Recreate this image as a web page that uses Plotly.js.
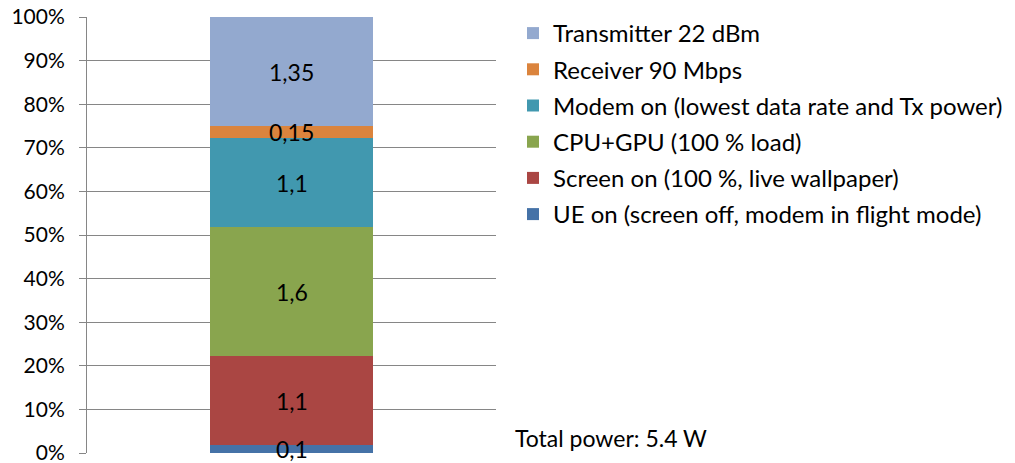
<!DOCTYPE html>
<html>
<head>
<meta charset="utf-8">
<script src="https://cdn.plot.ly/plotly-3.0.1.min.js"></script>
<style>html,body{margin:0;padding:0;background:#fff;}#chart{width:1015px;height:463px;}</style>
</head>
<body>
<div id="chart"></div>
<script>
const categories = [
  'UE on (screen off, modem in flight mode)',
  'Screen on (100 %, live wallpaper)',
  'CPU+GPU (100 % load)',
  'Modem on (lowest data rate and Tx power)',
  'Receiver 90 Mbps',
  'Transmitter 22 dBm'
];
const values = [0.1, 1.1, 1.6, 1.1, 0.15, 1.35];
const valueLabels = ['0,1', '1,1', '1,6', '1,1', '0,15', '1,35'];
const colors = ['#4572A7', '#AA4643', '#89A54E', '#4198AF', '#DB843D', '#93A9CF'];
const tickValues = [0, 10, 20, 30, 40, 50, 60, 70, 80, 90, 100];
const tickLabels = ['0%', '10%', '20%', '30%', '40%', '50%', '60%', '70%', '80%', '90%', '100%'];
const totalNote = 'Total power: 5.4 W';

const FONT = 'Lato, "Open Sans", sans-serif';
const traces = categories.map((name, i) => ({
  type: 'bar',
  name: name,
  x: [''],
  y: [values[i]],
  marker: {color: colors[i], line: {width: 0}},
  legendgroup: 'g' + i,
  legendrank: 100 - i,
  hoverinfo: 'skip'
}));

const total = values.reduce((a, b) => a + b, 0);
let cum = 0;
const annotations = values.map((v, i) => {
  const mid = (cum + v / 2) / total * 100;
  cum += v;
  return {x: 0, y: mid, xref: 'x', yref: 'y', text: valueLabels[i], showarrow: false,
          font: {family: FONT, size: 23, color: '#000'}};
});
annotations.push({x: (513 - 87) / 409, y: (453 - 438) / 436, xref: 'paper', yref: 'paper',
  xanchor: 'left', yanchor: 'middle', text: totalNote, showarrow: false,
  font: {family: FONT, size: 23, color: '#000'}});

const layout = {
  width: 1015, height: 463,
  margin: {l: 87, r: 519, t: 17, b: 10},
  paper_bgcolor: '#fff', plot_bgcolor: '#fff',
  barmode: 'stack', barnorm: 'percent', bargap: 0.6,
  font: {family: FONT, size: 24, color: '#000'},
  xaxis: {showticklabels: false, showgrid: false, zeroline: false, showline: false, ticks: '', fixedrange: true},
  yaxis: {range: [0, 100], tickvals: tickValues, ticktext: tickLabels, showgrid: true,
    gridcolor: '#868686', gridwidth: 1, zeroline: false, showline: true, linecolor: '#868686', linewidth: 1,
    ticks: 'outside', ticklen: 7, tickcolor: '#868686', ticklabeloverflow: 'allow', ticklabelstandoff: 10,
    tickfont: {family: FONT, size: 21, color: '#000'}},
  showlegend: true,
  legend: {xref: 'container', yref: 'container', x: 513 / 1015, y: 1 - 11 / 463, xanchor: 'left', yanchor: 'top',
    traceorder: 'grouped', tracegroupgap: 2, font: {family: FONT, size: 24, color: '#000'},
    bgcolor: 'rgba(0,0,0,0)'},
  annotations: annotations
};
Plotly.newPlot('chart', traces, layout, {displayModeBar: false, staticPlot: true});
</script>
</body>
</html>
